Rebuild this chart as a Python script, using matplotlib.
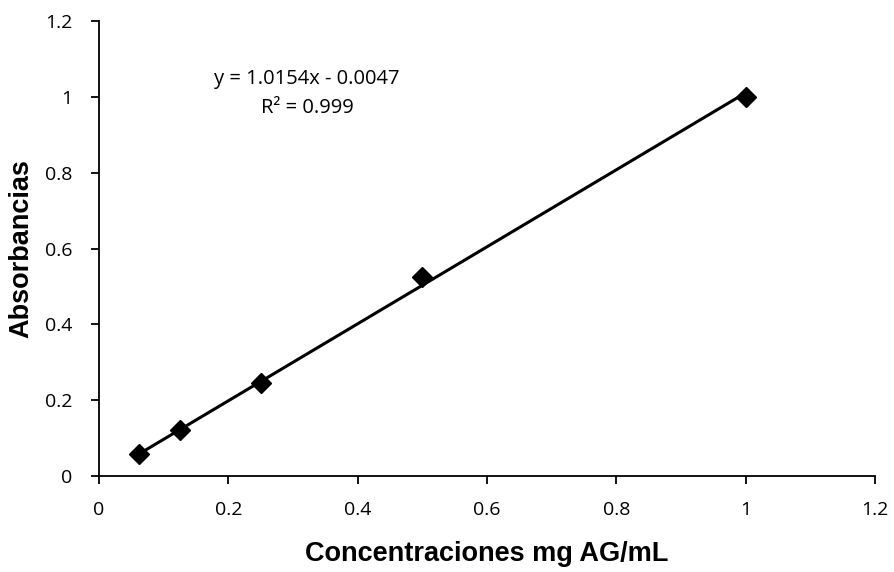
import numpy as np
import matplotlib
matplotlib.use("Agg")
import matplotlib.pyplot as plt

# standard curve data
conc = [0.0625, 0.125, 0.25, 0.5, 1.0]
absorb = [0.058, 0.122, 0.245, 0.525, 1.0]
slope, intercept = 1.0154, -0.0047
xticks = [0, 0.2, 0.4, 0.6, 0.8, 1, 1.2]
xtick_labels = ["0", "0.2", "0.4", "0.6", "0.8", "1", "1.2"]
yticks = [0, 0.2, 0.4, 0.6, 0.8, 1, 1.2]
ytick_labels = ["0", "0.2", "0.4", "0.6", "0.8", "1", "1.2"]

fig = plt.figure(figsize=(8.95, 5.72), dpi=100, facecolor="white")
ax = fig.add_axes([0.1106, 0.1678, 0.8671, 0.7955])

xfit = np.array([min(conc), max(conc)])
ax.plot(xfit, slope * xfit + intercept, color="black", linewidth=2.2)
ax.plot(conc, absorb, linestyle="none", marker="D", markersize=10,
        color="black", markeredgecolor="black")

ax.set_xlim(0, 1.2); ax.set_ylim(0, 1.2)
ax.set_xticks(xticks); ax.set_xticklabels(xtick_labels)
ax.set_yticks(yticks); ax.set_yticklabels(ytick_labels)
for s in ["top", "right"]:
    ax.spines[s].set_visible(False)
for s in ["left", "bottom"]:
    ax.spines[s].set_linewidth(1.3)
ax.tick_params(direction="out", length=6, width=1.3, labelsize=14)
ax.tick_params(axis="x", pad=12)
ax.tick_params(axis="y", pad=13)
for lbl in ax.get_xticklabels() + ax.get_yticklabels():
    lbl.set_fontfamily("Open Sans")

ax.set_xlabel("Concentraciones mg AG/mL", fontsize=19.5, fontweight="bold",
              family="Liberation Sans", labelpad=16)
ax.set_ylabel("Absorbancias", fontsize=19.5, fontweight="bold",
              family="Liberation Sans", labelpad=8)

ax.text(0.3216, 1.01, "y = 1.0154x - 0.0047\nR² = 0.999", ha="center", va="center",
        fontsize=14.5, family="Open Sans", linespacing=1.6)

plt.savefig("out.png", dpi=100, facecolor="white")
